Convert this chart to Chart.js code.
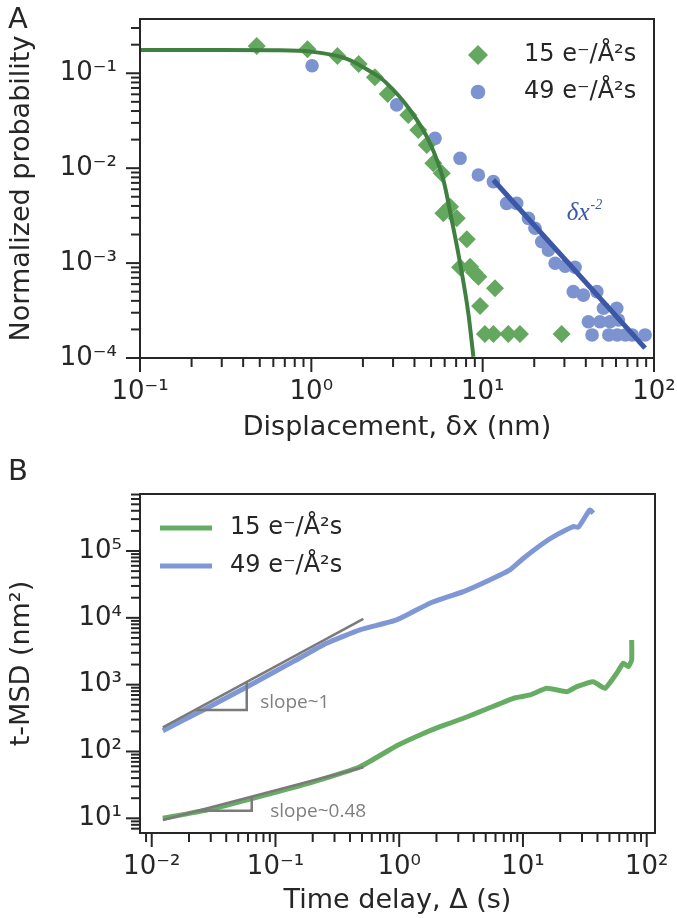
<!DOCTYPE html>
<html>
<head>
<meta charset="utf-8">
<script src="https://cdn.jsdelivr.net/npm/chart.js@4.4.1/dist/chart.umd.min.js"></script>
<style>
  html, body { margin: 0; padding: 0; background: #fff; }
  #wrap { position: relative; width: 677px; height: 918px; overflow: hidden; }
  .box { position: absolute; left: 0; width: 677px; }
  .panel { position: absolute; left: 8px; font: 29px "DejaVu Sans"; line-height: 1; color: #262626; }
</style>
</head>
<body>
<div id="wrap">
  <div class="box" style="top:440px;height:478px"><canvas id="chartB"></canvas></div>
  <div class="box" style="top:0;height:446px"><canvas id="chartA"></canvas></div>
  <div class="panel" style="top:4px">A</div>
  <div class="panel" style="top:456px">B</div>
</div>
<script>
// ---- panel A: displacement distributions ----
const dispX15 = [0.48, 0.95, 1.42, 1.89, 2.35, 2.79, 3.68, 4.21, 4.72, 5.15, 5.77, 5.9, 6.45, 7.06, 8.08, 7.38, 8.44, 8.9, 9.44, 11.8, 9.66, 10.3, 11.55, 14.1, 16.5, 28.9];
const prob15 = [0.194, 0.179, 0.152, 0.125, 0.0907, 0.0605, 0.0364, 0.0253, 0.0175, 0.0113, 0.00883, 0.00335, 0.00393, 0.00296, 0.00178, 0.000903, 0.000917, 0.0008, 0.00072, 0.000542, 0.000353, 0.000179, 0.000179, 0.000179, 0.000179, 0.000179];
const dispX49 = [1.01, 3.15, 5.27, 7.38, 9.44, 11.55, 13.8, 15.8, 18.5, 20.2, 22.1, 24.2, 26.5, 30.3, 34.6, 33.8, 38.7, 46.4, 50.7, 60.6, 41.4, 48.4, 55.4, 62.0, 43.5, 54.5, 61, 68, 74.5, 88.7];
const prob49 = [0.12, 0.0464, 0.0206, 0.0127, 0.00848, 0.00721, 0.00426, 0.00426, 0.00296, 0.00233, 0.00168, 0.00137, 0.000995, 0.00093, 0.000903, 0.0005, 0.00046, 0.0005, 0.000334, 0.000334, 0.000241, 0.000241, 0.000241, 0.000251, 0.000175, 0.000175, 0.000175, 0.000175, 0.000175, 0.000175];
const fitX15 = [0.1, 0.3, 0.6, 1.0, 1.61, 2.3, 2.69, 3.77, 4.93, 5.9, 6.6, 7.38, 8.25, 8.83];
const fitY15 = [0.176, 0.176, 0.175, 0.169, 0.142, 0.1, 0.0816, 0.041, 0.0183, 0.0075, 0.00284, 0.001, 0.000295, 0.000103];
const fitX49 = [11.55, 88.7];
const fitY49 = [0.0075, 0.000127];
const xTicksA = [0.1, 1, 10, 100];
const yTicksA = [1e-4, 1e-3, 1e-2, 1e-1];

// ---- panel B: t-MSD ----
const lagX15 = [0.0123, 0.0296, 0.075, 0.19, 0.482, 0.955, 1.47, 2.14, 3.3, 4.5, 8.36, 11.4, 15.6, 22.6, 27.2, 37, 46, 57.2, 64.7, 71, 75.6, 75.6];
const msd15 = [10, 13.6, 21.3, 34, 59.2, 122, 177, 235, 314, 394, 626, 702, 883, 786, 934, 1110, 883, 1480, 2090, 1860, 2340, 4670];
const lagX49 = [0.0123, 0.0261, 0.0586, 0.139, 0.259, 0.482, 0.955, 1.77, 3.30, 5.38, 7.85, 10.1, 14.6, 18.7, 25.5, 28.0, 30.7, 34.8, 37.0];
const msd49 = [205, 418, 925, 2210, 4170, 6610, 9310, 16560, 24700, 36950, 52150, 78000, 131000, 174000, 232000, 227000, 292000, 412000, 368000];
const guide1X = [0.0123, 0.513], guide1Y = [230, 9640];
const tri1X = [0.0224, 0.0586, 0.0586], tri1Y = [419, 419, 1096];
const guide2X = [0.0123, 0.513], guide2Y = [9.44, 58];
const tri2X = [0.0238, 0.0643, 0.0643], tri2Y = [13, 13, 21.1];
const xTicksB = [0.01, 0.1, 1, 10, 100];
const yTicksB = [10, 100, 1000, 10000, 100000];

const seriesNames = ['15 e⁻/Å²s', '49 e⁻/Å²s'];

const INK = '#262626';
const SUP = {'-': '⁻', '0': '⁰', '1': '¹', '2': '²', '3': '³', '4': '⁴', '5': '⁵', '6': '⁶', '7': '⁷', '8': '⁸', '9': '⁹'};

function pts(xs, ys) {
  return xs.map((x, i) => ({x: x, y: ys[i]}));
}

function powLabel(v) {
  const e = Math.round(Math.log10(v));
  return '10' + String(e).split('').map(c => SUP[c]).join('');
}

// frame + outward log ticks (major long, minor short)
const frameTicks = {
  id: 'frameTicks',
  afterDraw(chart) {
    const {ctx, chartArea: a, scales} = chart;
    ctx.save();
    ctx.strokeStyle = INK;
    ctx.lineWidth = 2;
    const drawAxis = (scale, horiz) => {
      const lo = Math.floor(Math.log10(scale.min)), hi = Math.ceil(Math.log10(scale.max));
      for (let e = lo; e <= hi; e++) {
        for (let m = 1; m <= 9; m++) {
          const v = m * Math.pow(10, e);
          if (v < scale.min * 0.999 || v > scale.max * 1.001) continue;
          const p = scale.getPixelForValue(v);
          const len = m === 1 ? 14 : 9;
          ctx.beginPath();
          if (horiz) { ctx.moveTo(p, a.bottom); ctx.lineTo(p, a.bottom + len); }
          else { ctx.moveTo(a.left, p); ctx.lineTo(a.left - len, p); }
          ctx.stroke();
        }
      }
    };
    drawAxis(scales.x, true);
    drawAxis(scales.y, false);
    ctx.strokeRect(a.left, a.top, a.right - a.left, a.bottom - a.top);
    ctx.restore();
  }
};

// legend drawn inside the plot
const boxLegend = {
  id: 'boxLegend',
  afterDraw(chart, args, opts) {
    if (!opts.items) return;
    const ctx = chart.ctx;
    ctx.save();
    opts.items.forEach(it => {
      ctx.fillStyle = it.color;
      ctx.strokeStyle = it.color;
      ctx.beginPath();
      if (it.kind === 'diamond') {
        const r = 10;
        ctx.moveTo(it.mx - r, it.y); ctx.lineTo(it.mx, it.y - r);
        ctx.lineTo(it.mx + r, it.y); ctx.lineTo(it.mx, it.y + r);
        ctx.closePath(); ctx.fill();
      } else if (it.kind === 'circle') {
        ctx.arc(it.mx, it.y, 7.3, 0, Math.PI * 2); ctx.fill();
      } else {
        ctx.lineWidth = 5;
        ctx.moveTo(it.mx - 26, it.y); ctx.lineTo(it.mx + 26, it.y); ctx.stroke();
      }
      ctx.fillStyle = INK;
      ctx.font = '24px "DejaVu Sans"';
      ctx.textBaseline = 'middle';
      ctx.textAlign = 'left';
      ctx.fillText(it.label, opts.textX, it.y);
    });
    ctx.restore();
  }
};

// text notes placed at data coordinates
const notes = {
  id: 'notes',
  afterDraw(chart, args, opts) {
    if (!opts.items) return;
    const {ctx, scales} = chart;
    ctx.save();
    opts.items.forEach(n => {
      const x = scales.x.getPixelForValue(n.x), y = scales.y.getPixelForValue(n.y);
      ctx.fillStyle = n.color;
      ctx.font = n.font;
      ctx.textBaseline = 'middle';
      ctx.textAlign = 'left';
      ctx.fillText(n.text, x, y);
      if (n.sup) {
        const w = ctx.measureText(n.text).width;
        ctx.font = n.supFont;
        ctx.fillText(n.sup, x + w + 1, y - 9);
      }
    });
    ctx.restore();
  }
};

function logAxis(min, max, majors, pad, titleText, titlePad, size) {
  return {
    type: 'logarithmic',
    min: min,
    max: max,
    afterBuildTicks: s => { s.ticks = majors.map(v => ({value: v})); },
    afterFit: s => {
      if (s.isHorizontal()) s.height = size; else s.width = size;
      s.paddingLeft = s.paddingRight = s.paddingTop = s.paddingBottom = 0;
    },
    grid: {display: false, drawTicks: false},
    border: {display: false},
    ticks: {
      autoSkip: false, maxRotation: 0, padding: pad, color: INK,
      font: {family: 'DejaVu Sans', size: 26},
      callback: v => powLabel(v)
    },
    title: {
      display: true, text: titleText, color: INK, padding: titlePad,
      font: {family: 'DejaVu Sans', size: 27}
    }
  };
}

Chart.register(frameTicks, boxLegend, notes);

new Chart(document.getElementById('chartA'), {
  type: 'scatter',
  data: {
    datasets: [
      {data: pts(fitX49, fitY49), showLine: true, borderColor: '#3b57a6', borderWidth: 5, pointRadius: 0, order: 0},
      {data: pts(fitX15, fitY15), showLine: true, borderColor: '#3f8040', borderWidth: 4, pointRadius: 0, cubicInterpolationMode: 'monotone', order: 1},
      {label: seriesNames[0], data: pts(dispX15, prob15), pointStyle: 'rectRot', pointRadius: 9, pointBackgroundColor: '#64a85f', pointBorderWidth: 0, order: 2},
      {label: seriesNames[1], data: pts(dispX49, prob49), pointStyle: 'circle', pointRadius: 6.8, pointBackgroundColor: '#7c93cf', pointBorderWidth: 0, order: 3}
    ]
  },
  options: {
    responsive: true, maintainAspectRatio: false, animation: false, events: [],
    layout: {padding: {left: 0, right: 23, top: 19, bottom: 0}},
    scales: {
      x: logAxis(0.1, 100, xTicksA, 19, 'Displacement, δx (nm)', {top: 0, bottom: 2}, 88),
      y: logAxis(1e-4, 0.373, yTicksA, 23, 'Normalized probability', {top: 6, bottom: 0}, 140)
    },
    plugins: {
      legend: {display: false},
      tooltip: {enabled: false},
      boxLegend: {
        textX: 524,
        items: [
          {label: seriesNames[0], kind: 'diamond', color: '#64a85f', mx: 478, y: 55},
          {label: seriesNames[1], kind: 'circle', color: '#7c93cf', mx: 478, y: 92}
        ]
      },
      notes: {
        items: [
          {text: 'δx', sup: '-2', x: 31, y: 0.0033, color: '#3b57a6',
           font: 'italic 25px "Liberation Serif"', supFont: 'italic 14px "Liberation Serif"'}
        ]
      }
    }
  }
});

new Chart(document.getElementById('chartB'), {
  type: 'scatter',
  data: {
    datasets: [
      {data: pts(guide1X, guide1Y), showLine: true, borderColor: '#7a7a7a', borderWidth: 2.5, pointRadius: 0, order: 0},
      {data: pts(tri1X, tri1Y), showLine: true, borderColor: '#7a7a7a', borderWidth: 2.5, pointRadius: 0, order: 0},
      {data: pts(guide2X, guide2Y), showLine: true, borderColor: '#7a7a7a', borderWidth: 2.5, pointRadius: 0, order: 0},
      {data: pts(tri2X, tri2Y), showLine: true, borderColor: '#7a7a7a', borderWidth: 2.5, pointRadius: 0, order: 0},
      {label: seriesNames[0], data: pts(lagX15, msd15), showLine: true, borderColor: '#66ad63', borderWidth: 5, pointRadius: 0, tension: 0.15, order: 1},
      {label: seriesNames[1], data: pts(lagX49, msd49), showLine: true, borderColor: '#7f98d5', borderWidth: 5, pointRadius: 0, tension: 0.15, order: 1}
    ]
  },
  options: {
    responsive: true, maintainAspectRatio: false, animation: false, events: [],
    layout: {padding: {left: 0, right: 22, top: 54, bottom: 0}},
    scales: {
      x: logAxis(0.00804, 116.7, xTicksB, 19, 'Time delay, Δ (s)', {top: 0, bottom: 1}, 85),
      y: logAxis(6.03, 7.13e5, yTicksB, 18, 't-MSD (nm²)', {top: 6, bottom: 0}, 140)
    },
    plugins: {
      legend: {display: false},
      tooltip: {enabled: false},
      boxLegend: {
        textX: 230,
        items: [
          {label: seriesNames[0], kind: 'line', color: '#66ad63', mx: 186, y: 88},
          {label: seriesNames[1], kind: 'line', color: '#7f98d5', mx: 186, y: 126}
        ]
      },
      notes: {
        items: [
          {text: 'slope~1', x: 0.0752, y: 532, color: '#7f7f7f', font: '19px "Open Sans"'},
          {text: 'slope~0.48', x: 0.0906, y: 12.4, color: '#7f7f7f', font: '19px "Open Sans"'}
        ]
      }
    }
  }
});
</script>
</body>
</html>
